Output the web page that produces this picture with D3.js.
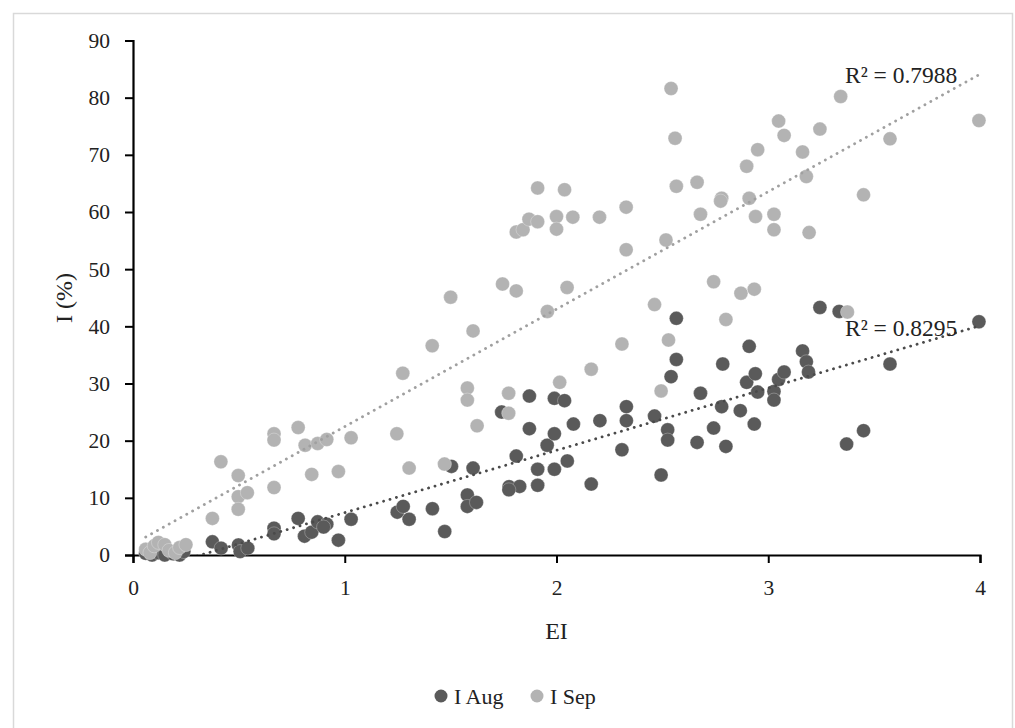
<!DOCTYPE html>
<html>
<head>
<meta charset="utf-8">
<script src="https://cdn.jsdelivr.net/npm/d3@7"></script>
<style>
  html, body { margin: 0; padding: 0; background: #fff; }
  svg { display: block; }
  text { font-family: "Liberation Serif", "DejaVu Serif", serif; fill: #222; }
</style>
</head>
<body>
<svg id="chart" width="1015" height="728"></svg>
<script>
// Erosion index (EI) vs incidence I (%) for August and September
const augEI = [0.06,0.09,0.12,0.15,0.19,0.22,0.24,
  0.375,0.416,0.498,0.506,0.542,0.666,0.666,0.78,0.81,0.844,0.872,0.915,0.9,0.97,1.03,
  1.248,1.276,1.304,1.414,1.472,1.504,1.579,1.579,1.622,1.606,1.741,1.776,1.826,1.775,1.81,1.872,1.872,
  1.911,1.911,1.956,1.99,1.99,1.99,2.038,2.051,2.08,2.164,2.205,2.309,2.33,2.33,2.463,2.494,2.525,2.525,
  2.541,2.566,2.566,2.664,2.68,2.742,2.78,2.785,2.8,2.868,2.898,2.91,2.934,2.939,2.95,3.027,3.027,3.049,
  3.075,3.162,3.18,3.19,3.244,3.335,3.37,3.45,3.575,3.995];
const augI = [0.3,0.0,0.4,0.0,0.2,0.0,0.6,
  2.3,1.2,1.75,0.6,1.2,4.7,3.7,6.4,3.3,4.0,5.8,5.4,4.9,2.6,6.25,
  7.5,8.5,6.25,8.1,4.1,15.5,10.5,8.5,9.2,15.2,25.0,11.95,12.0,11.4,17.3,27.8,22.1,
  15.0,12.2,19.2,27.4,21.2,15.0,27.0,16.45,22.9,12.4,23.5,18.4,25.95,23.5,24.3,14.0,21.9,20.1,
  31.2,34.2,41.4,19.7,28.3,22.2,25.95,33.4,19.0,25.25,30.2,36.5,22.9,31.7,28.5,28.6,27.1,30.7,
  32.0,35.7,33.8,32.0,43.3,42.6,19.4,21.75,33.4,40.8];

const sepEI = [0.06,0.08,0.1,0.12,0.15,0.17,0.2,0.22,0.25,
  0.375,0.415,0.497,0.497,0.54,0.497,0.666,0.666,0.666,0.78,0.813,0.872,0.915,0.844,0.97,1.03,
  1.246,1.304,1.274,1.413,1.471,1.5,1.579,1.579,1.606,1.625,1.745,1.774,1.774,1.81,1.81,1.842,1.87,
  1.911,1.911,1.957,2.0,2.0,2.015,2.038,2.05,2.077,2.164,2.203,2.309,2.329,2.329,2.463,2.494,2.517,
  2.529,2.541,2.56,2.566,2.664,2.68,2.742,2.78,2.775,2.8,2.871,2.898,2.91,2.934,2.94,2.95,3.027,3.027,
  3.049,3.075,3.162,3.18,3.193,3.244,3.342,3.374,3.45,3.575,3.995];
const sepI = [1.0,0.4,1.6,2.2,1.8,0.8,0.4,1.3,1.8,
  6.4,16.3,13.9,10.2,10.9,8.0,21.2,20.1,11.8,22.3,19.2,19.5,20.2,14.1,14.6,20.5,
  21.2,15.2,31.8,36.6,15.9,45.1,29.2,27.1,39.2,22.6,47.4,28.3,24.8,46.2,56.5,56.9,58.75,
  58.3,64.2,42.6,59.2,57.0,30.2,63.9,46.8,59.1,32.5,59.1,36.9,60.85,53.4,43.8,28.7,55.1,
  37.6,81.6,72.9,64.5,65.2,59.6,47.8,62.4,61.9,41.2,45.8,68.0,62.4,46.5,59.2,70.9,59.6,56.9,
  75.9,73.4,70.5,66.2,56.4,74.5,80.2,42.5,63.0,72.8,76.0];

// Linear trendlines: [slope, intercept], with the stated R² values
const augTrend = [10.9, -3.49];
const sepTrend = [20.55, 1.9];
const r2Labels = ["R² = 0.8295", "R² = 0.7988"];

const xTicks = [0, 1, 2, 3, 4];
const yTicks = [0, 10, 20, 30, 40, 50, 60, 70, 80, 90];
const seriesNames = ["I Aug", "I Sep"];
const colors = { aug: "#5a5a5a", sep: "#b3b3b3", augLine: "#4a4a4a", sepLine: "#a0a0a0" };

const svg = d3.select("#chart");

// outer frame
svg.append("rect")
  .attr("x", 13.5).attr("y", 13.5).attr("width", 999).attr("height", 730)
  .attr("fill", "none").attr("stroke", "#d9d9d9").attr("stroke-width", 1.5);

const x = d3.scaleLinear().domain([0, 4]).range([133, 980]);
const y = d3.scaleLinear().domain([0, 90]).range([555, 40.5]);

// clip region for the trendlines
svg.append("clipPath").attr("id", "plotClip")
  .append("rect").attr("x", 133).attr("y", 40).attr("width", 850).attr("height", 515);

// axes
const xAxis = svg.append("g").attr("transform", `translate(0,${y(0)})`)
  .call(d3.axisBottom(x).tickValues(xTicks).tickFormat(d3.format("d")).tickSizeOuter(0).tickSize(8).tickPadding(17));
const yAxis = svg.append("g").attr("transform", `translate(${x(0)},0)`)
  .call(d3.axisLeft(y).tickValues(yTicks).tickSizeOuter(0).tickSize(8).tickPadding(15));

[xAxis, yAxis].forEach(g => {
  g.select(".domain").attr("stroke", "#000").attr("stroke-width", 2.2);
  g.selectAll(".tick line").attr("stroke", "#000").attr("stroke-width", 2);
  g.selectAll(".tick text").style("font-size", "21.5px").attr("fill", "#222")
    .style("font-family", '"Liberation Serif", serif');
});

// points
const augPts = augEI.map((e, i) => [e, augI[i]]);
const sepPts = sepEI.map((e, i) => [e, sepI[i]]);

svg.append("g").selectAll("circle").data(augPts).join("circle")
  .attr("cx", d => x(d[0])).attr("cy", d => y(d[1])).attr("r", 7)
  .attr("fill", colors.aug).attr("stroke", "#fff").attr("stroke-opacity", 0.35).attr("stroke-width", 0.8);

svg.append("g").selectAll("circle").data(sepPts).join("circle")
  .attr("cx", d => x(d[0])).attr("cy", d => y(d[1])).attr("r", 7)
  .attr("fill", colors.sep).attr("stroke", "#fff").attr("stroke-opacity", 0.35).attr("stroke-width", 0.8);

// trendlines, spanning the data range
function trend(coef, xs, color) {
  const x0 = d3.min(xs), x1 = d3.max(xs);
  const line = d3.line().x(d => x(d)).y(d => y(coef[0] * d + coef[1]));
  svg.append("path").datum([x0, x1]).attr("d", line)
    .attr("clip-path", "url(#plotClip)")
    .attr("fill", "none").attr("stroke", color).attr("stroke-width", 2.8)
    .attr("stroke-linecap", "round").attr("stroke-dasharray", "0.1 6.6");
}
trend(augTrend, augEI, colors.augLine);
trend(sepTrend, sepEI, colors.sepLine);

// R² labels
svg.append("text").attr("x", 845).attr("y", 336).style("font-size", "23.5px").text(r2Labels[0]);
svg.append("text").attr("x", 845).attr("y", 83).style("font-size", "23.5px").text(r2Labels[1]);

// axis titles
svg.append("text").attr("x", x(2)).attr("y", 639).attr("text-anchor", "middle")
  .style("font-size", "24px").text("EI");
svg.append("text").attr("transform", "translate(72,298) rotate(-90)").attr("text-anchor", "middle")
  .style("font-size", "24px").text("I (%)");

// legend
const legend = svg.append("g").attr("transform", "translate(0,697)");
const legendItems = [
  { name: seriesNames[0], color: colors.aug, cx: 441 },
  { name: seriesNames[1], color: colors.sep, cx: 537 }
];
legendItems.forEach(it => {
  legend.append("circle").attr("cx", it.cx).attr("cy", -1).attr("r", 6.5).attr("fill", it.color);
  legend.append("text").attr("x", it.cx + 13).attr("y", 6.5).style("font-size", "22px").text(it.name);
});
</script>
</body>
</html>
